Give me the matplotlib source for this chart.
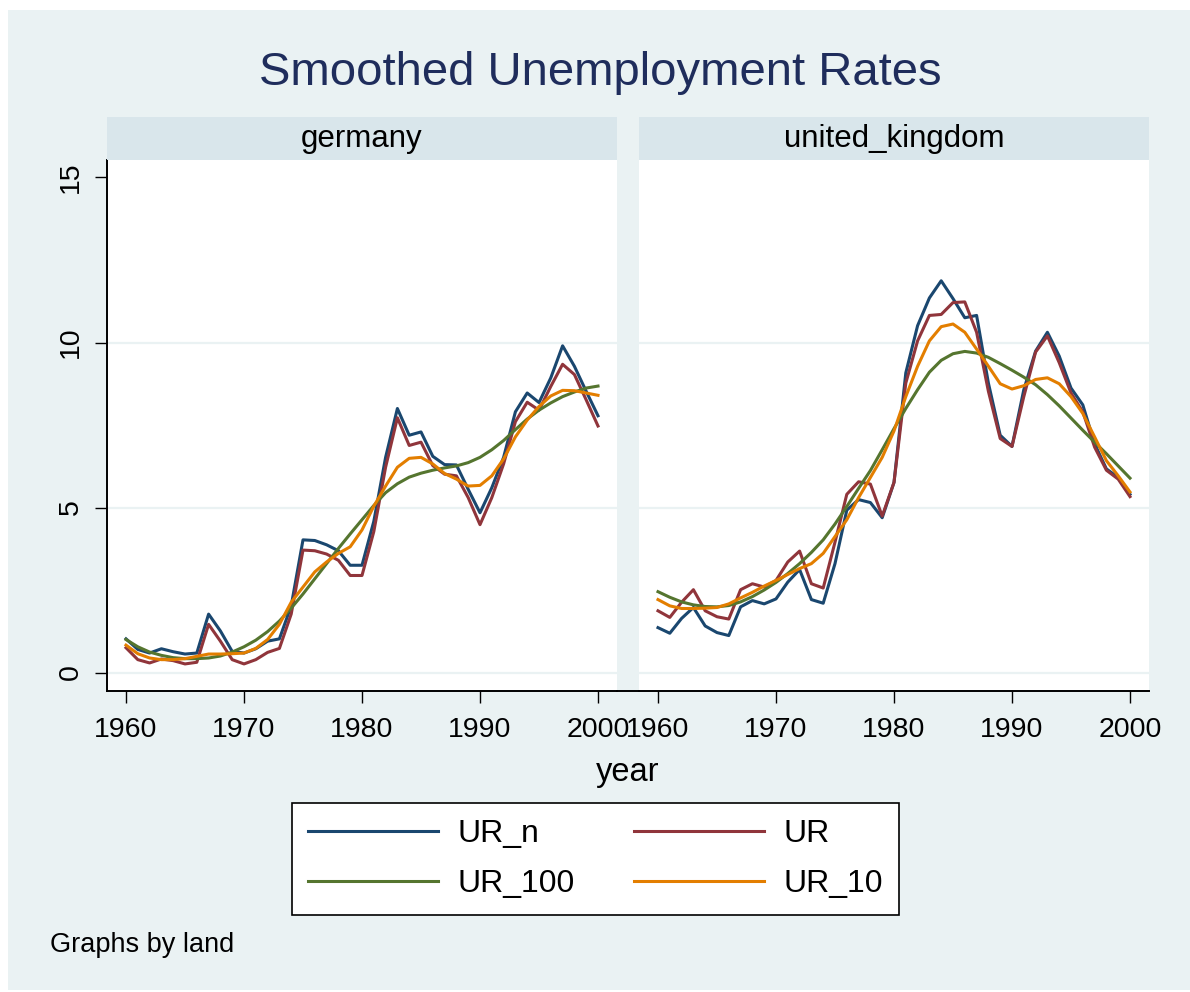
"""Smoothed unemployment rates by country, Stata s2color look."""
import matplotlib

matplotlib.use("Agg")
import matplotlib.pyplot as plt
from matplotlib.lines import Line2D
from matplotlib.patches import Rectangle

W, H = 1190, 992

years = list(range(1960, 2001))
panels = ["germany", "united_kingdom"]
series_names = ["UR_n", "UR", "UR_100", "UR_10"]

de_ur_n = [1.02, 0.70, 0.59, 0.72, 0.63, 0.56, 0.59, 1.77, 1.26, 0.64,
           0.59, 0.72, 0.95, 1.02, 2.02, 4.02, 4.00, 3.87, 3.69, 3.25,
           3.25, 4.58, 6.52, 8.00, 7.19, 7.29, 6.55, 6.30, 6.29, 5.55,
           4.84, 5.60, 6.52, 7.90, 8.47, 8.18, 8.93, 9.90, 9.28, 8.52,
           7.78]
de_ur = [0.75, 0.39, 0.29, 0.41, 0.36, 0.26, 0.31, 1.46, 0.95, 0.39,
         0.26, 0.39, 0.61, 0.73, 1.77, 3.71, 3.69, 3.59, 3.40, 2.94,
         2.94, 4.27, 6.22, 7.72, 6.88, 6.98, 6.27, 6.01, 5.96, 5.30,
         4.48, 5.30, 6.32, 7.60, 8.19, 7.95, 8.67, 9.34, 9.03, 8.26,
         7.47]
de_ur_100 = [1.00, 0.78, 0.62, 0.52, 0.45, 0.42, 0.42, 0.44, 0.50, 0.62,
             0.78, 0.98, 1.24, 1.56, 1.95, 2.38, 2.84, 3.30, 3.76, 4.20,
             4.63, 5.06, 5.45, 5.72, 5.92, 6.04, 6.13, 6.20, 6.26, 6.36,
             6.52, 6.75, 7.03, 7.36, 7.68, 7.95, 8.17, 8.36, 8.50, 8.62,
             8.68]
de_ur_10 = [0.83, 0.57, 0.44, 0.39, 0.39, 0.42, 0.49, 0.56, 0.56, 0.57,
            0.59, 0.73, 1.00, 1.46, 2.13, 2.59, 3.05, 3.35, 3.61, 3.81,
            4.32, 5.04, 5.65, 6.22, 6.49, 6.52, 6.32, 6.03, 5.86, 5.65,
            5.67, 5.96, 6.47, 7.14, 7.65, 8.06, 8.38, 8.55, 8.54, 8.47,
            8.40]

uk_ur_n = [1.36, 1.19, 1.64, 1.97, 1.41, 1.21, 1.12, 1.99, 2.18, 2.08,
           2.23, 2.74, 3.12, 2.21, 2.10, 3.30, 4.92, 5.24, 5.15, 4.69,
           5.76, 9.08, 10.51, 11.35, 11.87, 11.33, 10.75, 10.82, 8.77, 7.19,
           6.85, 8.57, 9.74, 10.31, 9.59, 8.62, 8.11, 6.93, 6.17, 5.91,
           5.40]
uk_ur = [1.87, 1.67, 2.13, 2.51, 1.87, 1.69, 1.62, 2.51, 2.69, 2.59,
         2.79, 3.35, 3.68, 2.69, 2.56, 3.95, 5.40, 5.78, 5.71, 4.74,
         5.76, 8.77, 10.05, 10.82, 10.85, 11.21, 11.23, 10.31, 8.52, 7.09,
         6.85, 8.36, 9.71, 10.20, 9.39, 8.47, 7.90, 6.83, 6.13, 5.86,
         5.33]
uk_ur_100 = [2.45, 2.28, 2.14, 2.05, 2.00, 1.99, 2.03, 2.14, 2.30, 2.50,
             2.73, 3.00, 3.30, 3.64, 4.02, 4.50, 5.03, 5.58, 6.12, 6.75,
             7.39, 8.00, 8.57, 9.10, 9.46, 9.66, 9.73, 9.68, 9.55, 9.36,
             9.16, 8.95, 8.72, 8.42, 8.08, 7.71, 7.34, 6.98, 6.63, 6.26,
             5.89]
uk_ur_10 = [2.21, 2.02, 1.94, 1.94, 1.95, 1.97, 2.08, 2.26, 2.43, 2.62,
            2.79, 2.97, 3.15, 3.30, 3.61, 4.12, 4.63, 5.30, 5.91, 6.52,
            7.32, 8.36, 9.28, 10.05, 10.48, 10.56, 10.31, 9.80, 9.28, 8.75,
            8.59, 8.69, 8.88, 8.93, 8.75, 8.36, 7.85, 7.14, 6.42, 5.96,
            5.47]

x_ticks = [1960, 1970, 1980, 1990, 2000]
y_ticks = [0, 5, 10, 15]

COLORS = ["#1A476F", "#90353B", "#55752F", "#E37E00"]
BG = "#EAF2F3"
STRIP = "#D9E6EB"
TITLE_COLOR = "#1F2D5C"
FONT = "Liberation Sans"
LW = 2.2


def px_rect(x0, y0, x1, y1):
    """Pixel box (top-left origin) -> figure fraction rect."""
    return [x0 / W, 1 - y1 / H, (x1 - x0) / W, (y1 - y0) / H]


def draw_panel(fig, box, name, data, show_y):
    x0, y0, x1, y1 = box
    fig.patches.append(
        Rectangle((x0 / W, 1 - y0 / H), (x1 - x0) / W, 43 / H,
                  transform=fig.transFigure, facecolor=STRIP,
                  edgecolor="none", zorder=0)
    )
    fig.text((x0 + x1) / 2 / W, 1 - 139 / H, name, ha="center", va="center",
             fontsize=22.5, family=FONT)

    ax = fig.add_axes(px_rect(x0, y0, x1, y1))
    ax.set_facecolor("white")
    for y in [0, 5, 10]:
        ax.axhline(y, color=BG, lw=1.6, zorder=1)
    for vals, color, label in zip(data, COLORS, series_names):
        ax.plot(years, vals, color=color, lw=LW, label=label, zorder=3)

    ax.set_xlim(1958.39, 2001.61)
    ax.set_ylim(-0.56, 15.53)
    ax.set_xticks(x_ticks)
    ax.set_xticklabels([str(t) for t in x_ticks], fontsize=20.5, family=FONT)
    ax.tick_params(axis="x", length=8.6, width=1.0, pad=10)
    for side in ["top", "right"]:
        ax.spines[side].set_visible(False)
    ax.spines["bottom"].set_linewidth(1.4)
    if show_y:
        ax.set_yticks(y_ticks)
        ax.set_yticklabels([str(t) for t in y_ticks], fontsize=20.5,
                           family=FONT, rotation=90, va="center")
        ax.tick_params(axis="y", length=8.6, width=1.0, pad=8)
        ax.spines["left"].set_linewidth(1.4)
    else:
        ax.set_yticks([])
        ax.spines["left"].set_visible(False)
    return ax


def main():
    fig = plt.figure(figsize=(W / 100, H / 100), dpi=100)
    fig.patch.set_facecolor("white")
    fig.patches.append(
        Rectangle((8 / W, 1 - 990 / H), (W - 8) / W, 980 / H,
                  transform=fig.transFigure, facecolor=BG, edgecolor="none",
                  zorder=-1)
    )

    fig.text(600 / W, 1 - 73 / H, "Smoothed Unemployment Rates",
             ha="center", va="center", fontsize=34, color=TITLE_COLOR,
             family=FONT)

    draw_panel(fig, (107, 160, 617, 691), panels[0],
               [de_ur_n, de_ur, de_ur_100, de_ur_10], True)
    draw_panel(fig, (639, 160, 1149, 691), panels[1],
               [uk_ur_n, uk_ur, uk_ur_100, uk_ur_10], False)
    # bottom axis line runs across the gap between panels
    fig.add_artist(Line2D([617 / W, 639 / W], [1 - 691 / H, 1 - 691 / H],
                          color="black", lw=1.4))

    fig.text(628 / W, 1 - 773 / H, "year", ha="center", va="center",
             fontsize=23.5, family=FONT)

    # legend is filled by column, so reorder to get the row-wise Stata layout
    order = [0, 2, 1, 3]
    handles = [Line2D([], [], color=COLORS[i], lw=LW) for i in order]
    labels = [series_names[i] for i in order]
    leg = fig.legend(handles, labels, ncol=2, loc="upper left",
                     bbox_to_anchor=(292 / W, 1 - 803 / H),
                     bbox_transform=fig.transFigure, borderaxespad=0,
                     prop={"family": FONT, "size": 23},
                     handlelength=4.06, handletextpad=0.63,
                     columnspacing=1.85, borderpad=0.5, labelspacing=0.64,
                     fancybox=False, frameon=True)
    frame = leg.get_frame()
    frame.set_edgecolor("black")
    frame.set_facecolor("white")
    frame.set_alpha(1)
    frame.set_linewidth(1.2)

    fig.text(50 / W, 1 - 945 / H, "Graphs by land", ha="left", va="center",
             fontsize=19.5, family=FONT)

    fig.savefig("out.png", dpi=100, facecolor=fig.get_facecolor())
    return 0


if __name__ == "__main__":
    raise SystemExit(main())
